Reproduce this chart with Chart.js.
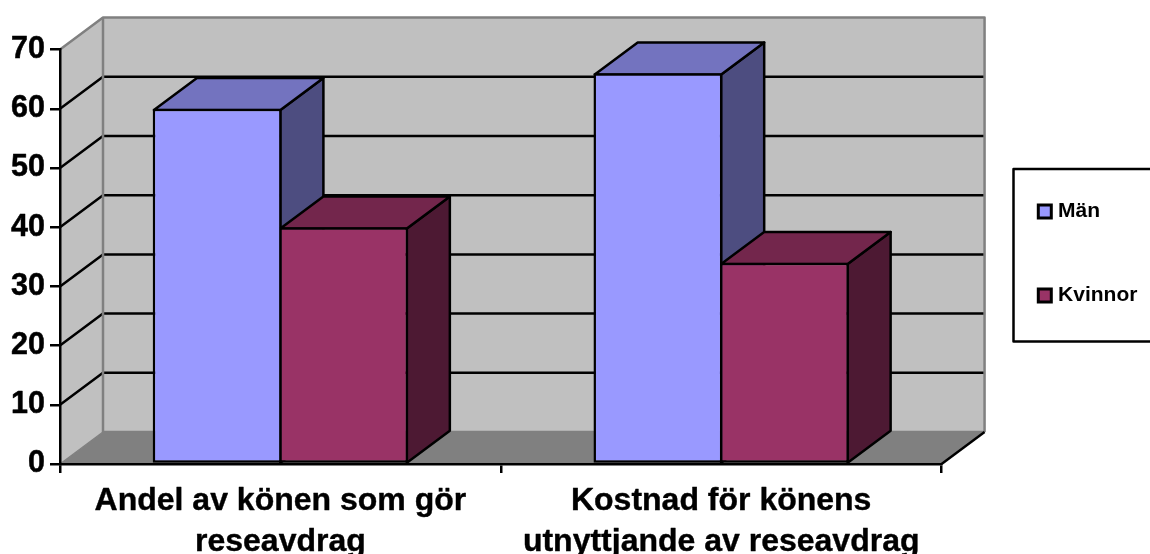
<!DOCTYPE html>
<html lang="sv">
<head>
    <meta charset="UTF-8">
    <title>Reseavdrag</title>
    <script src="https://cdn.jsdelivr.net/npm/chart.js"></script>
    <style>
        html, body { margin: 0; padding: 0; background: #fff; }
        canvas { display: block; }
    </style>
</head>
<body>
    <canvas id="chart" width="1150" height="554"></canvas>
    <script>
const categories = [
    ['Andel av könen som gör', 'reseavdrag'],
    ['Kostnad för könens', 'utnyttjande av reseavdrag']
];
const man = [60, 66];
const kvinnor = [40, 34];

// depth of the fake 3D box
const DX = 43;
const DY = 32;
const LW = 2.5;
const FONT = '"Liberation Sans", Arial, sans-serif';

function poly(ctx, pts, fill, stroke, width) {
    ctx.beginPath();
    pts.forEach((p, i) => i ? ctx.lineTo(p[0], p[1]) : ctx.moveTo(p[0], p[1]));
    ctx.closePath();
    if (fill) { ctx.fillStyle = fill; ctx.fill(); }
    if (stroke) { ctx.strokeStyle = stroke; ctx.lineWidth = width; ctx.stroke(); }
}

function line(ctx, pts, color, width) {
    ctx.beginPath();
    pts.forEach((p, i) => i ? ctx.lineTo(p[0], p[1]) : ctx.moveTo(p[0], p[1]));
    ctx.strokeStyle = color;
    ctx.lineWidth = width;
    ctx.stroke();
}

const box3d = {
    id: 'box3d',
    afterLayout(chart) {
        // legend sits inside its own frame, not where the layout puts it
        chart.legend.left = 979;
        chart.legend.right = 979 + chart.legend.width;
        chart.legend.top = 138;
        chart.legend.bottom = 138 + chart.legend.height;
    },
    beforeDraw(chart) {
        const ctx = chart.ctx;
        const a = chart.chartArea;
        const y = chart.scales.y;
        // round joins everywhere, the stroked tick labels get spikes otherwise
        ctx.lineJoin = 'round';
        ctx.save();
        // walls and floor
        poly(ctx, [[a.left, a.top], [a.left + DX, a.top - DY], [a.left + DX, a.bottom - DY], [a.left, a.bottom]], '#c0c0c0');
        poly(ctx, [[a.left + DX, a.top - DY], [a.right + DX, a.top - DY], [a.right + DX, a.bottom - DY], [a.left + DX, a.bottom - DY]], '#c0c0c0');
        poly(ctx, [[a.left, a.bottom], [a.left + DX, a.bottom - DY], [a.right + DX, a.bottom - DY], [a.right, a.bottom]], '#808080');
        // grid lines follow the value axis
        y.ticks.forEach(t => {
            if (t.value === 0 || t.value === y.max) return;
            const py = y.getPixelForValue(t.value);
            line(ctx, [[a.left, py], [a.left + DX, py - DY], [a.right + DX, py - DY]], '#000', LW);
        });
        // grey edges
        line(ctx, [[a.left, a.top], [a.left + DX, a.top - DY], [a.right + DX, a.top - DY], [a.right + DX, a.bottom - DY]], '#808080', LW);
        line(ctx, [[a.left + DX, a.top - DY], [a.left + DX, a.bottom - DY], [a.right + DX, a.bottom - DY]], '#808080', LW);
        line(ctx, [[a.left, a.bottom], [a.left + DX, a.bottom - DY]], '#808080', 1.5);
        line(ctx, [[a.right, a.bottom], [a.right + DX, a.bottom - DY]], '#000', LW);
        // legend frame, runs off the right side
        line(ctx, [[1152, 169], [1013.5, 169], [1013.5, 341.5], [1152, 341.5]], '#000', LW);
        ctx.restore();
    },
    beforeDatasetsDraw(chart) {
        const ctx = chart.ctx;
        ctx.save();
        categories.forEach((c, i) => {
            chart.data.datasets.forEach((ds, d) => {
                const bar = chart.getDatasetMeta(d).data[i];
                const l = bar.x - bar.width / 2 + LW / 2;
                const r = bar.x + bar.width / 2 - LW / 2;
                const t = bar.y + LW / 2;
                const b = bar.base;
                poly(ctx, [[r, t], [r + DX, t - DY], [r + DX, b - DY], [r, b]], ds.sideColor, '#000', LW);
                poly(ctx, [[l, t], [l + DX, t - DY], [r + DX, t - DY], [r, t]], ds.topColor, '#000', LW);
            });
        });
        ctx.restore();
    }
};

new Chart(document.getElementById('chart'), {
    type: 'bar',
    plugins: [box3d],
    data: {
        labels: categories,
        datasets: [
            { label: 'Män', data: man, backgroundColor: '#9999ff', sideColor: '#4d4d80', topColor: '#7373bf' },
            { label: 'Kvinnor', data: kvinnor, backgroundColor: '#993366', sideColor: '#4d1933', topColor: '#73264c' }
        ].map(ds => Object.assign(ds, {
            borderColor: '#000',
            borderWidth: LW,
            borderSkipped: false,
            categoryPercentage: 0.5737,
            barPercentage: 1.02,
            clip: false
        }))
    },
    options: {
        responsive: false,
        animation: false,
        layout: { padding: { top: 49.6, right: 40 } },
        plugins: {
            tooltip: { enabled: false },
            legend: {
                position: 'right',
                align: 'start',
                maxWidth: 208,
                labels: {
                    color: '#000',
                    font: { family: FONT, size: 21, weight: 'bold' },
                    usePointStyle: true,
                    pointStyle: 'rect',
                    boxWidth: 5.6,
                    boxHeight: 13,
                    padding: 63,
                    generateLabels: c => Chart.defaults.plugins.legend.labels.generateLabels(c).map(l => Object.assign(l, { lineWidth: 3 }))
                }
            }
        },
        scales: {
            x: {
                afterFit: s => { s.height = 90; },
                grid: { drawOnChartArea: false, color: '#000', lineWidth: LW, tickLength: 9 },
                border: { color: '#000', width: LW },
                ticks: {
                    color: '#000',
                    padding: 8,
                    maxRotation: 0,
                    autoSkip: false,
                    textStrokeColor: '#000',
                    textStrokeWidth: 0.4,
                    font: { family: FONT, size: 32, weight: 'bold', lineHeight: 1.28 }
                }
            },
            y: {
                min: 0,
                max: 70,
                afterFit: s => { s.width = 60; },
                grid: { drawOnChartArea: false, color: '#000', lineWidth: LW, tickLength: 10 },
                border: { color: '#000', width: LW },
                ticks: {
                    stepSize: 10,
                    color: '#000',
                    padding: 5,
                    textStrokeColor: '#000',
                    textStrokeWidth: 0.5,
                    font: { family: FONT, size: 30.5, weight: 'bold' }
                }
            }
        }
    }
});
    </script>
</body>
</html>
